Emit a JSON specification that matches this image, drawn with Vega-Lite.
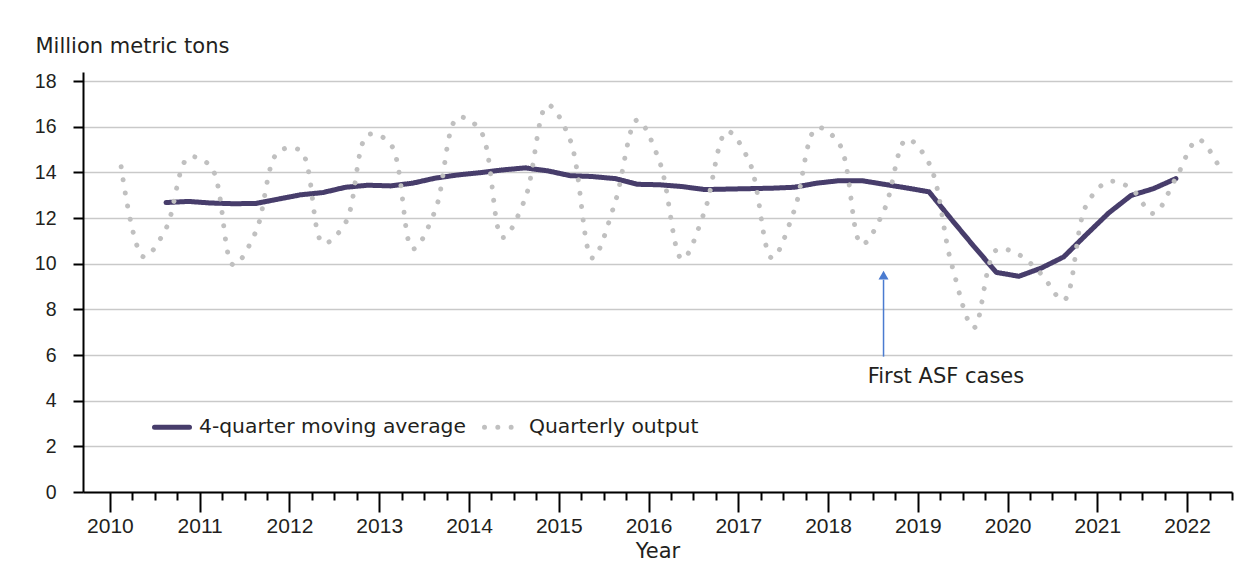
{
  "$schema": "https://vega.github.io/schema/vega-lite/v6.json",
  "width": 1149,
  "height": 420,
  "autosize": "none",
  "padding": {"left": 83, "top": 72, "right": 16, "bottom": 89},
  "background": "white",
  "config": {"view": {"stroke": null}, "font": "DejaVu Sans"},
  "resolve": {"axis": {"x": "independent"}},
  "datasets": {
    "series": [
      {"t": 2010.125, "s": "Quarterly output", "v": 14.25},
      {"t": 2010.375, "s": "Quarterly output", "v": 10.3},
      {"t": 2010.625, "s": "Quarterly output", "v": 11.55},
      {"t": 2010.875, "s": "Quarterly output", "v": 14.65},
      {"t": 2011.125, "s": "Quarterly output", "v": 14.25},
      {"t": 2011.375, "s": "Quarterly output", "v": 9.95},
      {"t": 2011.625, "s": "Quarterly output", "v": 11.4},
      {"t": 2011.875, "s": "Quarterly output", "v": 14.9},
      {"t": 2012.125, "s": "Quarterly output", "v": 14.95},
      {"t": 2012.375, "s": "Quarterly output", "v": 10.9},
      {"t": 2012.625, "s": "Quarterly output", "v": 11.8},
      {"t": 2012.875, "s": "Quarterly output", "v": 15.65},
      {"t": 2013.125, "s": "Quarterly output", "v": 15.25},
      {"t": 2013.375, "s": "Quarterly output", "v": 10.65},
      {"t": 2013.625, "s": "Quarterly output", "v": 12.35},
      {"t": 2013.875, "s": "Quarterly output", "v": 16.4},
      {"t": 2014.125, "s": "Quarterly output", "v": 15.85},
      {"t": 2014.375, "s": "Quarterly output", "v": 11.15},
      {"t": 2014.625, "s": "Quarterly output", "v": 12.85},
      {"t": 2014.875, "s": "Quarterly output", "v": 16.95},
      {"t": 2015.125, "s": "Quarterly output", "v": 15.45},
      {"t": 2015.375, "s": "Quarterly output", "v": 10.25},
      {"t": 2015.625, "s": "Quarterly output", "v": 12.65},
      {"t": 2015.875, "s": "Quarterly output", "v": 16.3},
      {"t": 2016.125, "s": "Quarterly output", "v": 14.45},
      {"t": 2016.375, "s": "Quarterly output", "v": 10.2},
      {"t": 2016.625, "s": "Quarterly output", "v": 12.3},
      {"t": 2016.875, "s": "Quarterly output", "v": 15.8},
      {"t": 2017.125, "s": "Quarterly output", "v": 14.45},
      {"t": 2017.375, "s": "Quarterly output", "v": 10.25},
      {"t": 2017.625, "s": "Quarterly output", "v": 12.35},
      {"t": 2017.875, "s": "Quarterly output", "v": 15.95},
      {"t": 2018.125, "s": "Quarterly output", "v": 15.25},
      {"t": 2018.375, "s": "Quarterly output", "v": 10.85},
      {"t": 2018.625, "s": "Quarterly output", "v": 12.35},
      {"t": 2018.875, "s": "Quarterly output", "v": 15.45},
      {"t": 2019.125, "s": "Quarterly output", "v": 14.4},
      {"t": 2019.375, "s": "Quarterly output", "v": 10.0},
      {"t": 2019.625, "s": "Quarterly output", "v": 7.2},
      {"t": 2019.875, "s": "Quarterly output", "v": 10.6},
      {"t": 2020.125, "s": "Quarterly output", "v": 10.4},
      {"t": 2020.375, "s": "Quarterly output", "v": 9.55},
      {"t": 2020.625, "s": "Quarterly output", "v": 8.4},
      {"t": 2020.875, "s": "Quarterly output", "v": 12.55},
      {"t": 2021.125, "s": "Quarterly output", "v": 13.6},
      {"t": 2021.375, "s": "Quarterly output", "v": 13.3},
      {"t": 2021.625, "s": "Quarterly output", "v": 12.2},
      {"t": 2021.875, "s": "Quarterly output", "v": 13.75},
      {"t": 2022.125, "s": "Quarterly output", "v": 15.45},
      {"t": 2022.375, "s": "Quarterly output", "v": 14.1},
      {"t": 2010.625, "s": "4-quarter moving average", "v": 12.68},
      {"t": 2010.875, "s": "4-quarter moving average", "v": 12.73},
      {"t": 2011.125, "s": "4-quarter moving average", "v": 12.66},
      {"t": 2011.375, "s": "4-quarter moving average", "v": 12.63},
      {"t": 2011.625, "s": "4-quarter moving average", "v": 12.64},
      {"t": 2011.875, "s": "4-quarter moving average", "v": 12.83},
      {"t": 2012.125, "s": "4-quarter moving average", "v": 13.02},
      {"t": 2012.375, "s": "4-quarter moving average", "v": 13.12},
      {"t": 2012.625, "s": "4-quarter moving average", "v": 13.35},
      {"t": 2012.875, "s": "4-quarter moving average", "v": 13.44},
      {"t": 2013.125, "s": "4-quarter moving average", "v": 13.41},
      {"t": 2013.375, "s": "4-quarter moving average", "v": 13.53},
      {"t": 2013.625, "s": "4-quarter moving average", "v": 13.75},
      {"t": 2013.875, "s": "4-quarter moving average", "v": 13.89},
      {"t": 2014.125, "s": "4-quarter moving average", "v": 13.99},
      {"t": 2014.375, "s": "4-quarter moving average", "v": 14.11},
      {"t": 2014.625, "s": "4-quarter moving average", "v": 14.2},
      {"t": 2014.875, "s": "4-quarter moving average", "v": 14.07},
      {"t": 2015.125, "s": "4-quarter moving average", "v": 13.86},
      {"t": 2015.375, "s": "4-quarter moving average", "v": 13.82},
      {"t": 2015.625, "s": "4-quarter moving average", "v": 13.73},
      {"t": 2015.875, "s": "4-quarter moving average", "v": 13.48},
      {"t": 2016.125, "s": "4-quarter moving average", "v": 13.46},
      {"t": 2016.375, "s": "4-quarter moving average", "v": 13.38},
      {"t": 2016.625, "s": "4-quarter moving average", "v": 13.25},
      {"t": 2016.875, "s": "4-quarter moving average", "v": 13.27},
      {"t": 2017.125, "s": "4-quarter moving average", "v": 13.29},
      {"t": 2017.375, "s": "4-quarter moving average", "v": 13.31},
      {"t": 2017.625, "s": "4-quarter moving average", "v": 13.35},
      {"t": 2017.875, "s": "4-quarter moving average", "v": 13.53},
      {"t": 2018.125, "s": "4-quarter moving average", "v": 13.64},
      {"t": 2018.375, "s": "4-quarter moving average", "v": 13.64},
      {"t": 2018.625, "s": "4-quarter moving average", "v": 13.48},
      {"t": 2018.875, "s": "4-quarter moving average", "v": 13.32},
      {"t": 2019.125, "s": "4-quarter moving average", "v": 13.15},
      {"t": 2019.375, "s": "4-quarter moving average", "v": 11.94},
      {"t": 2019.625, "s": "4-quarter moving average", "v": 10.76},
      {"t": 2019.875, "s": "4-quarter moving average", "v": 9.62},
      {"t": 2020.125, "s": "4-quarter moving average", "v": 9.45},
      {"t": 2020.375, "s": "4-quarter moving average", "v": 9.81},
      {"t": 2020.625, "s": "4-quarter moving average", "v": 10.3},
      {"t": 2020.875, "s": "4-quarter moving average", "v": 11.27},
      {"t": 2021.125, "s": "4-quarter moving average", "v": 12.22},
      {"t": 2021.375, "s": "4-quarter moving average", "v": 12.99},
      {"t": 2021.625, "s": "4-quarter moving average", "v": 13.29},
      {"t": 2021.875, "s": "4-quarter moving average", "v": 13.73}
    ],
    "note": [
      {"t": 2018.618, "y0": 5.93, "y1": 9.3, "yh": 9.5, "tx": 2019.313, "ty": 4.77, "label": "First ASF cases"}
    ]
  },
  "layer": [
    {
      "data": {"name": "series"},
      "transform": [{"filter": "datum.s === '4-quarter moving average'"}],
      "mark": {"type": "line", "interpolate": "linear", "strokeCap": "round", "strokeJoin": "round"},
      "encoding": {
        "x": {
          "field": "t", "type": "quantitative",
          "scale": {"domain": [2009.7, 2022.5], "nice": false, "zero": false},
          "axis": {
            "orient": "bottom",
            "values": [2010, 2011, 2012, 2013, 2014, 2015, 2016, 2017, 2018, 2019, 2020, 2021, 2022],
            "format": "d",
            "labelOverlap": false,
            "labelFlush": false,
            "grid": false,
            "domainColor": "#000000",
            "domainWidth": 2,
            "tickColor": "#000000",
            "tickWidth": 2,
            "tickSize": 20,
            "labelFont": "Liberation Sans",
            "labelFontSize": 21,
            "labelColor": "#231f20",
            "labelPadding": 3,
            "labelBaseline": "top",
            "title": "Year",
            "titleFont": "DejaVu Sans",
            "titleFontSize": 21,
            "titleFontWeight": "normal",
            "titleColor": "#231f20",
            "titleBaseline": "alphabetic",
            "titleY": 65
          }
        },
        "y": {
          "field": "v", "type": "quantitative",
          "scale": {"domain": [0, 18.4], "nice": false},
          "axis": {
            "values": [0, 2, 4, 6, 8, 10, 12, 14, 16, 18],
            "grid": true,
            "gridColor": "#c9c9c9",
            "gridWidth": 1.3,
            "domainColor": "#000000",
            "domainWidth": 2,
            "tickColor": "#000000",
            "tickWidth": 2,
            "tickSize": 10,
            "labelFont": "Liberation Sans",
            "labelFontSize": 19.5,
            "labelColor": "#231f20",
            "labelPadding": 17,
            "title": "Million metric tons",
            "titleAngle": 0,
            "titleAlign": "left",
            "titleBaseline": "alphabetic",
            "titleX": -48,
            "titleY": -20,
            "titleFont": "DejaVu Sans",
            "titleFontSize": 21,
            "titleFontWeight": "normal",
            "titleColor": "#231f20"
          }
        },
        "color": {
          "field": "s", "type": "nominal",
          "scale": {"domain": ["4-quarter moving average", "Quarterly output"], "range": ["#473d6b", "#c0c0c0"]},
          "legend": {"title": null, "orient": "none", "legendX": 69, "legendY": 335, "direction": "horizontal", "symbolType": "stroke", "symbolSize": 1225, "labelFont": "DejaVu Sans", "labelFontSize": 20.3, "labelColor": "#231f20", "labelOffset": 7, "columnPadding": 8, "labelLimit": 400, "encode": {"symbols": {"update": {"strokeCap": {"value": "round"}}}}}
        },
        "strokeDash": {
          "field": "s", "type": "nominal",
          "scale": {"domain": ["4-quarter moving average", "Quarterly output"], "range": [[1, 0], [0.01, 13.3]]},
          "legend": {"title": null}
        },
        "strokeWidth": {
          "field": "s", "type": "nominal",
          "scale": {"domain": ["4-quarter moving average", "Quarterly output"], "range": [5, 5]},
          "legend": {"title": null}
        }
      }
    },
    {
      "data": {"name": "series"},
      "transform": [{"filter": "datum.s === 'Quarterly output'"}],
      "mark": {"type": "line", "interpolate": "catmull-rom", "strokeCap": "round"},
      "encoding": {
        "x": {
          "field": "t", "type": "quantitative",
          "axis": {
            "orient": "bottom",
            "values": [2010.25, 2010.5, 2010.75, 2011.25, 2011.5, 2011.75, 2012.25, 2012.5, 2012.75, 2013.25, 2013.5, 2013.75, 2014.25, 2014.5, 2014.75, 2015.25, 2015.5, 2015.75, 2016.25, 2016.5, 2016.75, 2017.25, 2017.5, 2017.75, 2018.25, 2018.5, 2018.75, 2019.25, 2019.5, 2019.75, 2020.25, 2020.5, 2020.75, 2021.25, 2021.5, 2021.75, 2022.25, 2022.5],
            "labels": false,
            "domain": false,
            "grid": false,
            "tickColor": "#000000",
            "tickWidth": 2,
            "tickSize": 8,
            "title": null
          }
        },
        "y": {"field": "v", "type": "quantitative"},
        "color": {"field": "s", "type": "nominal"},
        "strokeDash": {"field": "s", "type": "nominal"},
        "strokeWidth": {"field": "s", "type": "nominal"}
      }
    },
    {
      "data": {"name": "note"},
      "mark": {"type": "rule", "color": "#4a7bd0", "strokeWidth": 1.5},
      "encoding": {
        "x": {"field": "t", "type": "quantitative", "axis": null},
        "y": {"field": "y0", "type": "quantitative"},
        "y2": {"field": "y1"}
      }
    },
    {
      "data": {"name": "note"},
      "mark": {"type": "point", "shape": "triangle-up", "filled": true, "color": "#4a7bd0", "size": 100, "opacity": 1},
      "encoding": {
        "x": {"field": "t", "type": "quantitative", "axis": null},
        "y": {"field": "yh", "type": "quantitative"}
      }
    },
    {
      "data": {"name": "note"},
      "mark": {"type": "text", "font": "DejaVu Sans", "fontSize": 21, "color": "#231f20", "align": "center", "baseline": "alphabetic"},
      "encoding": {
        "x": {"field": "tx", "type": "quantitative", "axis": null},
        "y": {"field": "ty", "type": "quantitative"},
        "text": {"field": "label"}
      }
    }
  ]
}
